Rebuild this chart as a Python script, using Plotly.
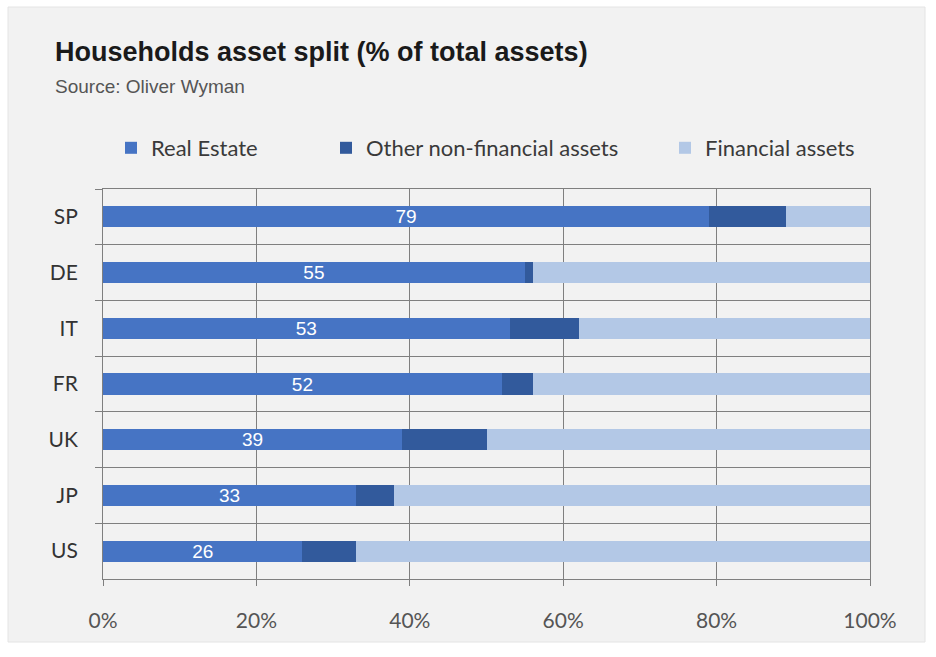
import plotly.graph_objects as go

# Household asset split by country, % of total assets
countries = ["SP", "DE", "IT", "FR", "UK", "JP", "US"]
real_estate = [79, 55, 53, 52, 39, 33, 26]
other_non_financial = [10, 1, 9, 4, 11, 5, 7]
financial = [11, 44, 38, 44, 50, 62, 67]
x_ticks = [0, 20, 40, 60, 80, 100]
x_tick_labels = ["0%", "20%", "40%", "60%", "80%", "100%"]

series_names = ["Real Estate", "Other non-financial assets", "Financial assets"]
colors = ["#4674c4", "#325a9c", "#b3c8e6"]

LABEL_FONT = "Lato, Carlito, Calibri, sans-serif"
GRID = "#7f7f7f"

fig = go.Figure()
legend_ids = ["legend", "legend2", "legend3"]
for name, vals, col, lg in zip(series_names,
                               [real_estate, other_non_financial, financial],
                               colors, legend_ids):
    fig.add_trace(go.Bar(
        y=countries, x=vals, name=name, orientation="h",
        marker=dict(color=col, line=dict(width=0)),
        legend=lg,
        text=[str(v) for v in vals] if name == "Real Estate" else None,
        textposition="inside" if name == "Real Estate" else None,
        insidetextanchor="middle",
        textfont=dict(color="white", size=19, family="Liberation Sans, Arial, sans-serif"),
        constraintext="none",
        hoverinfo="x+y+name",
    ))

legend_common = dict(
    orientation="h", xref="container", yref="container",
    yanchor="middle", xanchor="left", bgcolor="rgba(0,0,0,0)",
    font=dict(family=LABEL_FONT, size=22, color="#3a3a3a"),
    itemwidth=30, borderwidth=0,
)
fig.update_layout(
    legend=dict(x=111 / 936, y=1 - 148 / 657, **legend_common),
    legend2=dict(x=326 / 936, y=1 - 148 / 657, **legend_common),
    legend3=dict(x=665 / 936, y=1 - 148 / 657, **legend_common),
)

fig.update_layout(
    barmode="stack",
    bargap=0.62,
    width=936, height=657,
    margin=dict(l=103, r=66, t=189, b=78),
    paper_bgcolor="white",
    plot_bgcolor="#f6f5f3",
    showlegend=True,
    xaxis=dict(
        range=[0, 100], tickvals=x_ticks, ticktext=x_tick_labels,
        showgrid=True, gridcolor=GRID, gridwidth=1,
        zeroline=False, showline=True, mirror=True, linecolor=GRID, linewidth=1,
        ticks="outside", ticklen=6, tickcolor=GRID,
        tickfont=dict(family=LABEL_FONT, size=21, color="#555555"),
        ticklabelstandoff=17,
        fixedrange=True,
    ),
    yaxis=dict(
        categoryorder="array", categoryarray=countries,
        autorange="reversed",
        tickson="boundaries",
        showgrid=True, gridcolor=GRID, gridwidth=1,
        zeroline=False, showline=True, mirror=True, linecolor=GRID, linewidth=1,
        ticks="outside", ticklen=7, tickcolor=GRID,
        tickfont=dict(family=LABEL_FONT, size=21, color="#333333"),
        ticklabelstandoff=20,
        fixedrange=True,
    ),
    shapes=[dict(
        type="rect", xref="paper", yref="paper", layer="below",
        x0=-95 / 767, x1=(925 - 103) / 767,
        y0=-(642 - 579) / 390, y1=(579 - 7) / 390,
        fillcolor="#f2f2f2", line=dict(color="#e4e4e4", width=1),
    )],
    annotations=[
        dict(text="<b>Households asset split (% of total assets)</b>",
             xref="paper", yref="paper", x=-50 / 767, y=(579 - 52) / 390,
             xanchor="left", yanchor="middle", showarrow=False,
             font=dict(family="Liberation Sans, Arial, sans-serif", size=27, color="#1a1a1a")),
        dict(text="Source: Oliver Wyman",
             xref="paper", yref="paper", x=-50 / 767, y=(579 - 86) / 390,
             xanchor="left", yanchor="middle", showarrow=False,
             font=dict(family="Liberation Sans, Arial, sans-serif", size=19, color="#555555")),
    ],
)

fig.write_html("out.html")
